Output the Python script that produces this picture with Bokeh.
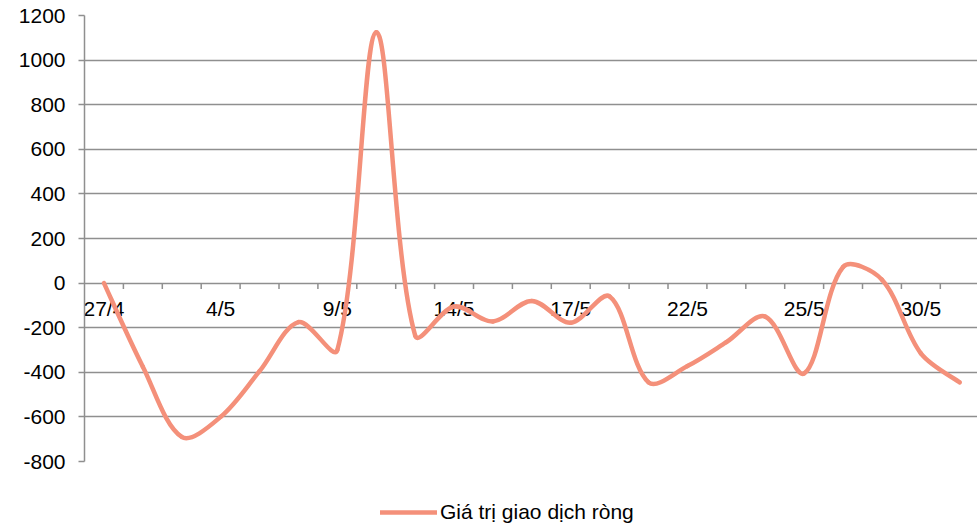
import numpy as np
from bokeh.plotting import figure
from bokeh.layouts import column
from bokeh.models import Range1d, FixedTicker, Legend, LegendItem, ColumnDataSource
from bokeh.core.properties import value
from bokeh.embed import file_html
from bokeh.resources import INLINE

# ---- data ----
dates = ["27/4", "2/5", "3/5", "4/5", "7/5", "8/5", "9/5", "10/5", "11/5", "14/5",
         "15/5", "16/5", "17/5", "18/5", "21/5", "22/5", "23/5", "24/5", "25/5",
         "28/5", "29/5", "30/5", "31/5"]
net_value = [0, -375, -690, -600, -395, -175, -300, 1125, -235, -105,
             -172, -80, -178, -60, -445, -372, -265, -150, -405,
             72, 15, -315, -445]
series_name = "Giá trị giao dịch ròng"
y_ticks = [-800, -600, -400, -200, 0, 200, 400, 600, 800, 1000, 1200]
y_tick_labels = ["-800", "-600", "-400", "-200", "0", "200", "400", "600", "800", "1000", "1200"]
label_step = 3

FONT = "Liberation Sans"
LINE_COLOR = "#F4907A"
GRID_COLOR = "#8f8f8f"

W = 977
H_MAIN, H_LEG = 480, 47
LEFT, TOP, BOTTOM = 84, 15, 19
X0, X1 = -0.5, 22.456
Y0, Y1 = -800, 1200

n = len(dates)
xs = np.arange(n, dtype=float)
ys = np.array(net_value, dtype=float)

# pixel scale for distance-weighted smoothing (spreadsheet-like smoothed line)
sx = (W - LEFT) / (X1 - X0)
sy = (H_MAIN - TOP - BOTTOM) / (Y1 - Y0)
xp = np.concatenate([[xs[0]], xs, [xs[-1]]])
yp = np.concatenate([[ys[0]], ys, [ys[-1]]])

def dist(i, j):
    return np.hypot((xp[i] - xp[j]) * sx, (yp[i] - yp[j]) * sy)

x0, y0, x1, y1, cx0, cy0, cx1, cy1 = [], [], [], [], [], [], [], []
for k in range(n - 1):
    a, b, c, d = k, k + 1, k + 2, k + 3  # indices in padded arrays
    dab, dbc, dcd = dist(a, b), dist(b, c), dist(c, d)
    f1 = dbc / (dab + dbc) / 3.0 if dab > 0 else 1.0 / 6.0
    f2 = dbc / (dbc + dcd) / 3.0 if dcd > 0 else 1.0 / 6.0
    x0.append(xp[b]); y0.append(yp[b]); x1.append(xp[c]); y1.append(yp[c])
    cx0.append(xp[b] + (xp[c] - xp[a]) * f1)
    cy0.append(yp[b] + (yp[c] - yp[a]) * f1)
    cx1.append(xp[c] - (xp[d] - xp[b]) * f2)
    cy1.append(yp[c] - (yp[d] - yp[b]) * f2)

p = figure(width=W, height=H_MAIN, output_backend="svg", toolbar_location=None,
           x_range=Range1d(X0, X1), y_range=Range1d(Y0, Y1),
           x_axis_location=None)
p.min_border_left = LEFT
p.min_border_right = 0
p.min_border_top = TOP
p.min_border_bottom = BOTTOM
p.outline_line_color = None
p.background_fill_color = "white"
p.border_fill_color = "white"

p.xgrid.visible = False
p.ygrid.grid_line_color = GRID_COLOR
p.ygrid.grid_line_width = 1.5
p.ygrid.ticker = FixedTicker(ticks=y_ticks)

ax = p.yaxis[0]
ax.ticker = FixedTicker(ticks=y_ticks)
ax.major_label_overrides = {t: s for t, s in zip(y_ticks, y_tick_labels)}
ax.axis_line_color = GRID_COLOR
ax.axis_line_width = 1.5
ax.major_tick_line_color = GRID_COLOR
ax.major_tick_line_width = 1.5
ax.major_tick_out = 6
ax.major_tick_in = 0
ax.minor_tick_line_color = None
ax.major_label_text_font = FONT
ax.major_label_text_font_size = "21px"
ax.major_label_text_color = "black"
ax.major_label_standoff = 13

# category boundary tick marks on the zero line
bounds = xs[1:] - 0.5
p.ray(x=bounds, y=[0] * len(bounds), length=6, length_units="screen",
      angle=-np.pi / 2, line_color=GRID_COLOR, line_width=1.5)

# category labels hanging under the zero line
lab_idx = list(range(0, n, label_step))
src_lab = ColumnDataSource(dict(x=[xs[i] for i in lab_idx], y=[0] * len(lab_idx),
                                t=[dates[i] for i in lab_idx]))
p.text(x="x", y="y", text="t", source=src_lab, text_font=value(FONT),
       text_font_size="21px", text_color="black", text_align="center",
       text_baseline="middle", y_offset=25)

p.bezier(x0=x0, y0=y0, x1=x1, y1=y1, cx0=cx0, cy0=cy0, cx1=cx1, cy1=cy1,
         line_color=LINE_COLOR, line_width=4.5, line_cap="round", line_join="round")

# ---- legend strip below the chart ----
pl = figure(width=W, height=H_LEG, output_backend="svg", toolbar_location=None,
            x_range=Range1d(0, 1), y_range=Range1d(0, 1),
            x_axis_location=None, y_axis_location=None)
pl.min_border_left = 0
pl.min_border_right = 0
pl.min_border_top = 0
pl.min_border_bottom = 0
pl.outline_line_color = None
pl.xgrid.visible = False
pl.ygrid.visible = False
# legend-only renderer, placed outside the visible range
sample = pl.line(x=[-10, -9], y=[-10, -10], line_color=LINE_COLOR, line_width=4.5,
                 line_cap="round")

leg = Legend(items=[LegendItem(label=series_name, renderers=[sample])],
             location=(296, 3), orientation="horizontal")
leg.border_line_color = None
leg.background_fill_alpha = 0
leg.padding = 0
leg.margin = 0
leg.glyph_width = 57
leg.glyph_height = 20
leg.label_height = 20
leg.label_standoff = 3
leg.label_text_font = FONT
leg.label_text_font_size = "21px"
leg.label_text_color = "black"
pl.add_layout(leg, "center")

layout = column(p, pl, spacing=0)
open("out.html", "w").write(file_html(layout, INLINE))
